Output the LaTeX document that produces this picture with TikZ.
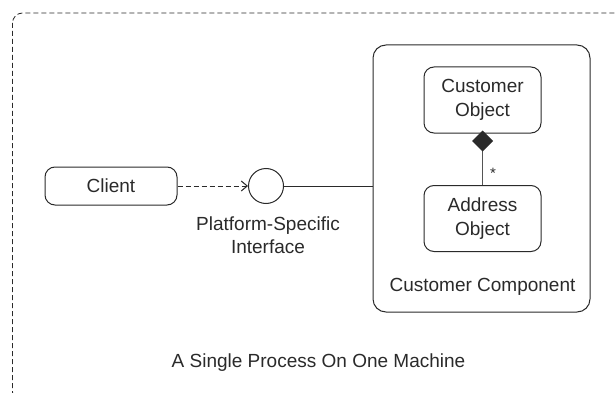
\documentclass[tikz,border=0pt]{standalone}
\usepackage{fontspec}
\setmainfont{Liberation Sans}
\usetikzlibrary{arrows.meta}
\definecolor{ink}{HTML}{2A2A2A}
\definecolor{edge}{HTML}{555555}
\begin{document}
\begin{tikzpicture}[x=1pt,y=-1pt,
  every node/.style={text=ink,font=\fontsize{19}{23.5}\selectfont},
  objbox/.style={draw=ink,line width=1pt,rounded corners=10pt,minimum width=117pt,minimum height=66pt,align=center,inner sep=0pt},
  line/.style={draw=ink,line width=1pt}]
\useasboundingbox (0,0) rectangle (615,393);
\begin{scope}
\clip (0,0) rectangle (615,393);
% the process boundary, running off the right and bottom
\draw[ink,line width=0.8pt,dash pattern=on 5pt off 3pt,rounded corners=10pt] (12.5,13) rectangle (640,402);
\end{scope}
% component box
\node[draw=ink,line width=1pt,rounded corners=13pt,minimum width=217pt,minimum height=267pt] (comp) at (481.5,178.5) {};
\node (complabel) at (482.5,287) {Customer Component};
\node[objbox] (cust) at (482.5,100) {Customer\\Object};
\node[objbox] (addr) at (482.5,218.5) {Address\\Object};
\draw[draw=edge,line width=1.2pt,-{Diamond[length=21pt,width=21pt,color=ink,fill=ink]}] (addr.north) -- ([yshift=3pt]cust.south);
\node[font=\fontsize{15}{15}\selectfont] (mult) at (493,173) {*};
% client and interface
\node[draw=ink,line width=1pt,rounded corners=10pt,minimum width=132pt,minimum height=38pt] (client) at (111,186) {Client};
\node[draw=ink,line width=1pt,circle,minimum size=35pt,inner sep=0pt] (iface) at (266,186) {};
\node[align=center] (ifacelabel) at (268,235) {Platform-Specific\\Interface};
\draw[line,dash pattern=on 5pt off 3pt,-{Straight Barb[length=6pt,width=10pt]}] (client.east) -- (iface.west);
\draw[line] (iface.east) -- (comp.west |- iface.east);
\node (proc) at (318.5,363) {A Single Process On One Machine};
\end{tikzpicture}
\end{document}
